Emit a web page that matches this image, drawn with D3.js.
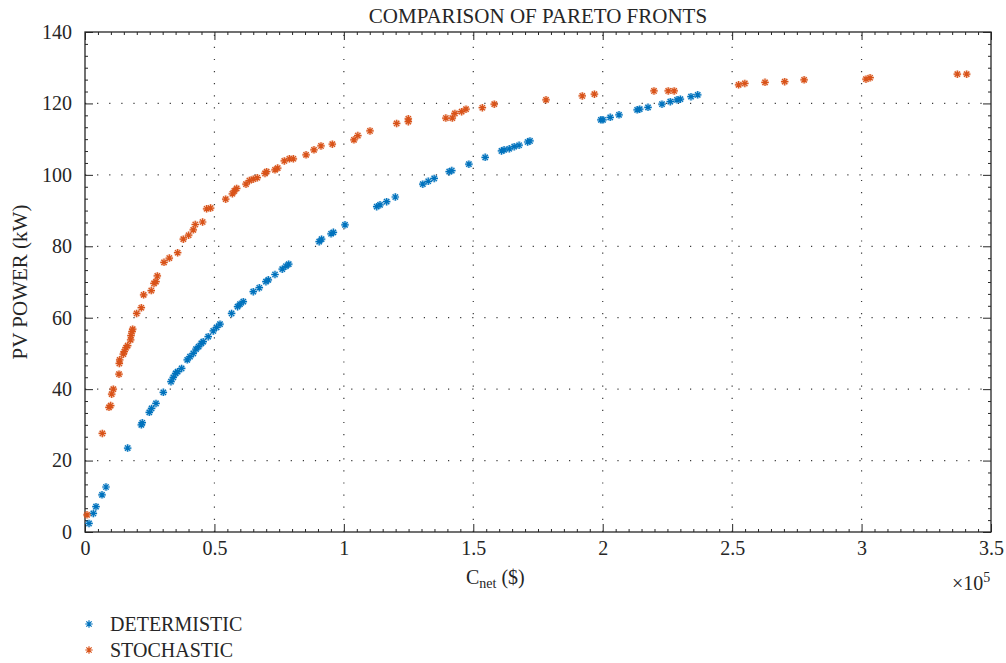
<!DOCTYPE html>
<html>
<head>
<meta charset="utf-8">
<script src="https://cdn.jsdelivr.net/npm/d3@7"></script>
<style>
  html, body { margin: 0; padding: 0; background: #fff; }
  svg text { font-family: "Liberation Serif", "Times New Roman", serif; fill: #262626; }
</style>
</head>
<body>
<svg id="chart" width="1006" height="663"></svg>
<script>
// Net cost ($) and PV power (kW) of the Pareto-optimal solutions
const detX = [1550, 3220, 4250, 6570, 8110, 16480, 21760, 22130, 24840, 25730, 27430, 30260,
  33220, 34110, 35020, 35790, 37330, 39500, 40560, 41830, 42880, 43900, 44930, 45680, 47600,
  49550, 50840, 52150, 56630, 58940, 59880, 61160, 65010, 67340, 69900, 70820, 73400, 76200,
  77600, 78700, 90470, 91390, 95050, 95950, 100440, 112690, 113970, 116530, 119880, 130500,
  132600, 134900, 140700, 141700, 148300, 154600, 160900, 161900, 163900, 165800, 167700,
  171000, 171900, 199300, 200100, 202900, 206300, 213300, 214300, 217500, 222900, 226100,
  228700, 230000, 234100, 236700];
const detY = [2.4, 5.2, 7.1, 10.4, 12.6, 23.5, 30.0, 30.6, 33.5, 34.6, 36.0, 39.1,
  42.1, 43.3, 44.4, 44.9, 45.8, 48.2, 49.1, 50.0, 51.2, 51.9, 52.8, 53.3, 54.7,
  56.3, 57.3, 58.2, 61.2, 63.1, 63.8, 64.5, 67.3, 68.4, 70.1, 70.6, 72.1, 73.6,
  74.4, 75.0, 81.3, 82.0, 83.5, 83.9, 86.0, 91.1, 91.6, 92.5, 93.8, 97.4,
  98.2, 99.0, 100.9, 101.2, 103.0, 104.9, 106.7, 107.0, 107.3, 107.9, 108.3,
  109.2, 109.5, 115.4, 115.4, 116.1, 116.8, 118.2, 118.4, 118.9, 119.8, 120.5,
  121.0, 121.2, 121.9, 122.4];

const stoX = [773, 6690, 9270, 9920, 10300, 10940, 13130, 13260, 13400, 14800, 15180, 15840,
  16480, 17630, 17770, 18160, 18420, 19960, 21760, 22650, 25600, 26660, 27430, 27940, 30520,
  32570, 35790, 37980, 40030, 41830, 42600, 45430, 46980, 48520, 54360, 56930, 57700, 58600,
  62200, 63500, 65000, 66560, 69540, 70180, 73400, 74440, 77000, 78950, 80490, 85400, 88460,
  91170, 95540, 103900, 105400, 110100, 120400, 124900, 124900, 139400, 141900, 142900,
  145500, 147200, 153500, 158100, 178100, 192100, 196800, 219800, 225300, 227600, 252500,
  254900, 262700, 270300, 277800, 301700, 303300, 337000, 340600];
const stoY = [4.8, 27.6, 34.9, 35.4, 38.6, 40.0, 44.2, 47.2, 48.2, 49.8, 50.5, 51.6,
  52.2, 53.8, 55.0, 56.1, 56.8, 61.2, 62.8, 66.4, 67.6, 69.6, 70.1, 71.7, 75.5,
  76.7, 78.2, 82.0, 83.1, 84.6, 86.1, 86.8, 90.5, 90.7, 93.2, 94.7, 95.5, 96.2,
  97.4, 98.4, 98.8, 99.2, 100.4, 100.9, 101.4, 101.9, 103.9, 104.5, 104.5, 105.6, 107.0,
  108.1, 108.6, 109.8, 111.0, 112.3, 114.4, 115.7, 114.9, 115.9, 115.9, 117.2,
  117.7, 118.4, 118.8, 119.8, 121.0, 122.1, 122.6, 123.5, 123.5, 123.5, 125.2,
  125.6, 125.9, 126.1, 126.6, 126.8, 127.2, 128.2, 128.2];

const xTicks = [0, 50000, 100000, 150000, 200000, 250000, 300000, 350000];
const xTickLabels = ["0", "0.5", "1", "1.5", "2", "2.5", "3", "3.5"];
const yTicks = [0, 20, 40, 60, 80, 100, 120, 140];
const seriesNames = ["DETERMISTIC", "STOCHASTIC"];
const seriesColors = ["#0072BD", "#D95319"];

const svg = d3.select("#chart");
const L = 85, R = 991, T = 32, B = 532;
const x = d3.scaleLinear().domain([0, 350000]).range([L, R]);
const y = d3.scaleLinear().domain([0, 140]).range([B, T]);

// dotted grid
const grid = svg.append("g").attr("stroke", "#3a3a3a").attr("stroke-width", 1.2)
  .attr("stroke-dasharray", "1.2,10.9");
xTicks.slice(1, -1).forEach(v => {
  grid.append("line").attr("x1", x(v)).attr("x2", x(v)).attr("y1", B).attr("y2", T);
});
yTicks.slice(1, -1).forEach(v => {
  grid.append("line").attr("x1", L).attr("x2", R).attr("y1", y(v)).attr("y2", y(v));
});

// minor tick positions
const xMinor = d3.range(0, 350001, 5000).filter(v => v % 50000 !== 0);
const yMinor = d3.range(0, 141, 20 / 6).map(v => Math.round(v * 1000) / 1000)
  .filter(v => Math.abs(v / 20 - Math.round(v / 20)) > 1e-6);

function styleAxis(g) {
  g.select(".domain").remove();
  g.selectAll(".tick line").attr("stroke", "#262626").attr("stroke-width", 1);
  g.selectAll("text").attr("font-size", 20).attr("fill", "#262626")
    .attr("font-family", "Liberation Serif, Times New Roman, serif");
}

// bottom axis with labels
svg.append("g").attr("transform", `translate(0,${B})`)
  .call(d3.axisBottom(x).tickValues(xTicks).tickFormat((d, i) => xTickLabels[i])
    .tickSize(-8).tickPadding(9)).call(styleAxis);
svg.append("g").attr("transform", `translate(0,${B})`)
  .call(d3.axisBottom(x).tickValues(xMinor).tickFormat("").tickSize(-3)).call(styleAxis);
// top axis
svg.append("g").attr("transform", `translate(0,${T})`)
  .call(d3.axisTop(x).tickValues(xTicks).tickFormat("").tickSize(-8)).call(styleAxis);
svg.append("g").attr("transform", `translate(0,${T})`)
  .call(d3.axisTop(x).tickValues(xMinor).tickFormat("").tickSize(-3)).call(styleAxis);
// left axis with labels
svg.append("g").attr("transform", `translate(${L},0)`)
  .call(d3.axisLeft(y).tickValues(yTicks).tickFormat(d3.format("d"))
    .tickSize(-8).tickPadding(13)).call(styleAxis);
svg.append("g").attr("transform", `translate(${L},0)`)
  .call(d3.axisLeft(y).tickValues(yMinor).tickFormat("").tickSize(-3)).call(styleAxis);
// right axis
svg.append("g").attr("transform", `translate(${R},0)`)
  .call(d3.axisRight(y).tickValues(yTicks).tickFormat("").tickSize(-8)).call(styleAxis);
svg.append("g").attr("transform", `translate(${R},0)`)
  .call(d3.axisRight(y).tickValues(yMinor).tickFormat("").tickSize(-3)).call(styleAxis);

// frame
svg.append("rect").attr("x", L).attr("y", T).attr("width", R - L).attr("height", B - T)
  .attr("fill", "none").attr("stroke", "#262626").attr("stroke-width", 1.3);

// eight-armed asterisk marker
const asterisk = {
  draw(ctx, size) {
    const r = Math.sqrt(size) / 2;
    const d = r * Math.SQRT1_2;
    ctx.moveTo(-r, 0); ctx.lineTo(r, 0);
    ctx.moveTo(0, -r); ctx.lineTo(0, r);
    ctx.moveTo(-d, -d); ctx.lineTo(d, d);
    ctx.moveTo(-d, d); ctx.lineTo(d, -d);
  }
};
const markerPath = d3.symbol().type(asterisk).size(56)();

const series = [
  { xs: detX, ys: detY, color: seriesColors[0] },
  { xs: stoX, ys: stoY, color: seriesColors[1] }
];
series.forEach(s => {
  const pts = s.xs.map((v, i) => [v, s.ys[i]]);
  const g = svg.append("g");
  // soft halo under each marker
  g.selectAll("path.halo").data(pts).join("path").attr("class", "halo")
    .attr("d", markerPath)
    .attr("transform", d => `translate(${x(d[0])},${y(d[1])})`)
    .attr("fill", "none").attr("stroke", s.color).attr("stroke-width", 3)
    .attr("stroke-opacity", 0.25);
  g.selectAll("path.mk").data(pts).join("path").attr("class", "mk")
    .attr("d", markerPath)
    .attr("transform", d => `translate(${x(d[0])},${y(d[1])})`)
    .attr("fill", "none").attr("stroke", s.color).attr("stroke-width", 1.2);
});

// title
svg.append("text").attr("x", (L + R) / 2).attr("y", 23).attr("text-anchor", "middle")
  .attr("font-size", 21).text("COMPARISON OF PARETO FRONTS");

// y label
svg.append("text").attr("transform", "translate(27,282) rotate(-90)")
  .attr("text-anchor", "middle").attr("font-size", 21).text("PV POWER (kW)");

// x label with subscript
const xl = svg.append("text").attr("x", 466).attr("y", 584).attr("font-size", 20);
xl.append("tspan").text("C");
xl.append("tspan").attr("font-size", 14).attr("dy", 4).text("net");
xl.append("tspan").attr("dy", -4).text(" ($)");

// exponent
const ex = svg.append("text").attr("x", 952).attr("y", 590).attr("font-size", 20);
ex.append("tspan").text("×10");
ex.append("tspan").attr("font-size", 14).attr("dy", -8).text("5");

// legend
seriesNames.forEach((name, i) => {
  const yy = 624 + i * 26;
  svg.append("path").attr("d", markerPath).attr("transform", `translate(89,${yy})`)
    .attr("fill", "none").attr("stroke", seriesColors[i]).attr("stroke-width", 1.2);
  svg.append("text").attr("x", 110).attr("y", yy).attr("dy", "0.35em")
    .attr("font-size", 20).text(name);
});
</script>
</body>
</html>
